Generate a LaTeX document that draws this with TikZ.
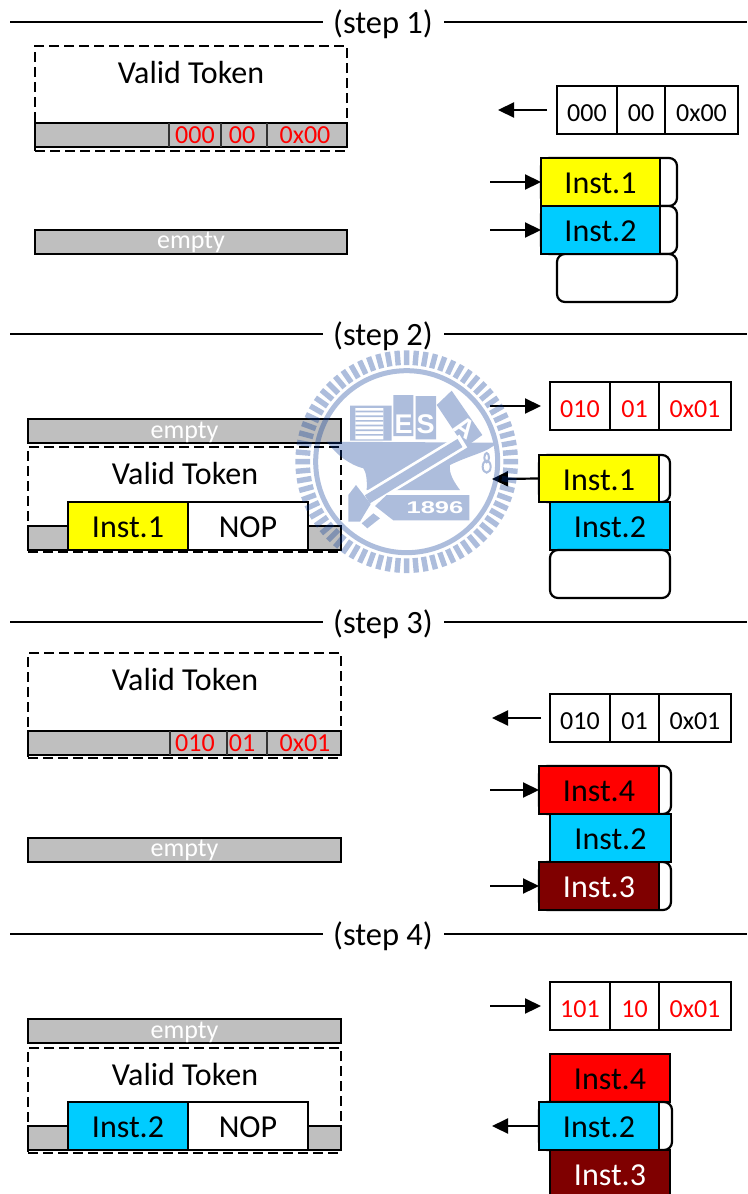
\documentclass[tikz,border=0pt]{standalone}
\usepackage{fontspec}
\setmainfont{Carlito}
\newfontfamily\logofont{Liberation Sans}
\usetikzlibrary{arrows.meta}
\definecolor{barg}{HTML}{BFBFBF}
\definecolor{instb}{HTML}{00CCFF}
\definecolor{insty}{HTML}{FFFF00}
\definecolor{instr}{HTML}{FF0000}
\definecolor{instd}{HTML}{7F0000}
\definecolor{logoc}{HTML}{003494}
\newcommand\cellbox[6][]{%
  \pgfmathsetmacro\cbw{#4-#2}\pgfmathsetmacro\cbh{#5-#3}%
  \pgfmathsetmacro\cbx{(#4+#2)/2}\pgfmathsetmacro\cby{(#5+#3)/2}%
  \node[cellbase,minimum width=\cbw pt,minimum height=\cbh pt,#1] at (\cbx,\cby) {#6};}
\tikzset{
  cellbase/.style={draw=black,line width=2.2pt,inner sep=0pt,outer sep=0pt,font=\fontsize{26}{26}\selectfont,text=black,text height=23pt,text depth=0pt},
  big/.style={font=\fontsize{32}{32}\selectfont,text height=23.5pt,text depth=0pt},
  tab/.style={fill=white,rounded corners=8pt},
  bar/.style={fill=barg,text=white,text height=12pt,text depth=0pt},
  zone/.style={draw=black,line width=2.2pt,dash pattern=on 10pt off 5pt,fill=none,inner sep=0pt,outer sep=0pt},
  rule/.style={draw=black,line width=2.2pt},
  flow/.style={draw=black,line width=2.2pt,-{Triangle[length=16pt,width=15pt]}},
  tick/.style={draw=black!80,line width=1.6pt},
  redt/.style={text=red,font=\fontsize{26}{26}\selectfont,inner sep=0pt,anchor=base},
  steplabel/.style={font=\fontsize{32.5}{32.5}\selectfont,inner sep=0pt,anchor=base},
  tokenlabel/.style={font=\fontsize{32}{32}\selectfont,inner sep=0pt,anchor=base},
  logop/.style={fill=logoc,draw=none},
  logotext/.style={text=white,inner sep=0pt,font=\logofont\bfseries\fontsize{27}{27}\selectfont},
}
\begin{document}
\begin{tikzpicture}[x=1pt,y=-1pt]
\useasboundingbox (0,0) rectangle (747,1194);
\fill[white] (0,0) rectangle (747,1194);

% section rules
\foreach \n/\yy in {1/22,2/334,3/622,4/934}{
  \node[steplabel] (s\n) at (383,\yy+11) {(step \n)};
  \coordinate (sl\n) at (10,\yy);
  \coordinate (sr\n) at (747,\yy);
  \coordinate (slb\n) at (323,\yy);
  \coordinate (srb\n) at (444,\yy);
  \draw[rule] (sl\n) -- (slb\n);
  \draw[rule] (srb\n) -- (sr\n);
}

% ---------- step 1 ----------
\cellbox[bar,name=g1]{35}{123}{347}{147}{}
\cellbox[bar,name=em1]{35}{230}{347}{254}{empty}
\node[zone,minimum width=312pt,minimum height=105pt] (z1) at (191,98.5) {};
\node[tokenlabel] (vt1) at (191,83) {Valid Token};
\draw[tick] (169,123)--(169,147) (221,123)--(221,147) (267,123)--(267,147);
\node[redt] (a1) at (195,143.5) {000};
\node[redt] (b1) at (242,143.5) {00};
\node[redt] (c1) at (305,143.5) {0x00};
\cellbox[name=t1a]{557}{86}{617}{134}{000}
\cellbox[name=t1b]{617}{86}{665}{134}{00}
\cellbox[name=t1c]{665}{86}{738}{134}{0x00}
\coordinate (e1) at (498,110);
\draw[flow,shorten <=10pt] (t1a.west) -- (e1);
\cellbox[tab,name=r11]{541}{158}{677}{206}{}
\cellbox[tab,name=r12]{541}{206}{677}{254}{}
\cellbox[tab,name=r13]{557}{254}{677}{302}{}
\cellbox[big,fill=insty,name=i11]{541}{158}{660}{206}{Inst.1}
\cellbox[big,fill=instb,name=i12]{541}{206}{660}{254}{Inst.2}
\coordinate (p11) at (490,182);
\coordinate (p12) at (490,230);
\draw[flow] (p11) -- (i11.west);
\draw[flow] (p12) -- (i12.west);

% ---------- step 2 ----------
\cellbox[bar,name=em2,text height=15pt]{28}{419}{341}{443}{empty}
\cellbox[bar,name=g2]{28}{526}{341}{550}{}
\node[zone,minimum width=313pt,minimum height=105pt] (z2) at (184.5,499.5) {};
\node[tokenlabel] (vt2) at (185,484) {Valid Token};
\cellbox[big,fill=insty,name=w21]{68}{502}{188}{550}{Inst.1}
\cellbox[big,fill=white,name=w22]{188}{502}{308}{550}{NOP}
\cellbox[text=red,name=t2a]{550}{382}{610}{430}{010}
\cellbox[text=red,name=t2b]{610}{382}{659}{430}{01}
\cellbox[text=red,name=t2c]{659}{382}{731}{430}{0x01}
\coordinate (p21) at (490,406);
\draw[flow,shorten >=9pt] (p21) -- (t2a.west);
\cellbox[tab,name=r21]{539}{455}{670}{502}{}
\cellbox[big,fill=insty,name=i21]{539}{455}{659}{502}{Inst.1}
\cellbox[big,fill=instb,name=i22]{550}{502}{670}{550}{Inst.2}
\cellbox[tab,name=r23]{550}{550}{670}{598}{}
\coordinate (p22) at (492,479);
\draw[flow] (i21.west) -- (p22);

% ---------- step 3 ----------
\cellbox[bar,name=g3]{28}{731}{341}{755}{}
\cellbox[bar,name=em3]{28}{838}{341}{862}{empty}
\node[zone,minimum width=313pt,minimum height=105pt] (z3) at (184.5,705.5) {};
\node[tokenlabel] (vt3) at (185,690) {Valid Token};
\draw[tick] (170,731)--(170,755) (227,731)--(227,755) (267,731)--(267,755);
\node[redt] (a3) at (195,751.5) {010};
\node[redt] (b3) at (242,751.5) {01};
\node[redt] (c3) at (305,751.5) {0x01};
\cellbox[name=t3a]{550}{694}{610}{742}{010}
\cellbox[name=t3b]{610}{694}{659}{742}{01}
\cellbox[name=t3c]{659}{694}{731}{742}{0x01}
\coordinate (p30) at (492,718);
\draw[flow,shorten <=9pt] (t3a.west) -- (p30);
\cellbox[tab,name=r31]{539}{766}{671}{814}{}
\cellbox[big,fill=instr,name=i34]{539}{766}{659}{814}{Inst.4}
\cellbox[tab,name=r33]{539}{862}{671}{910}{}
\cellbox[big,fill=instb,name=i32]{550}{814}{671}{862}{Inst.2}
\cellbox[big,fill=instd,text=white,name=i33]{539}{862}{659}{910}{Inst.3}
\coordinate (p34) at (490,790);
\coordinate (p33) at (490,886);
\draw[flow] (p34) -- (i34.west);
\draw[flow] (p33) -- (i33.west);

% ---------- step 4 ----------
\cellbox[bar,name=em4,text height=15pt]{28}{1019}{341}{1043}{empty}
\cellbox[bar,name=g4]{28}{1126}{341}{1150}{}
\node[zone,minimum width=313pt,minimum height=105pt] (z4) at (184.5,1100.5) {};
\node[tokenlabel] (vt4) at (185,1085) {Valid Token};
\cellbox[big,fill=instb,name=w41]{68}{1102}{188}{1150}{Inst.2}
\cellbox[big,fill=white,name=w42]{188}{1102}{308}{1150}{NOP}
\cellbox[text=red,name=t4a]{550}{982}{610}{1030}{101}
\cellbox[text=red,name=t4b]{610}{982}{659}{1030}{10}
\cellbox[text=red,name=t4c]{659}{982}{731}{1030}{0x01}
\coordinate (p41) at (490,1006);
\draw[flow,shorten >=9pt] (p41) -- (t4a.west);
\cellbox[big,fill=instr,name=i44]{550}{1054}{670}{1102}{Inst.4}
\cellbox[tab,name=r42]{539}{1102}{672}{1150}{}
\cellbox[big,fill=instb,name=i42]{539}{1102}{659}{1150}{Inst.2}
\cellbox[big,fill=instd,text=white,name=i43]{550}{1150}{670}{1198}{Inst.3}
\coordinate (p42) at (492,1126);
\draw[flow] (i42.west) -- (p42);

% ---------- watermark ----------
\begin{scope}[shift={(280,340)},x=0.33333pt,y=-0.33333pt,transparency group,opacity=0.32]
  \foreach \a in {0,5,...,355}{
    \draw[draw=logoc,line width=5.4pt] ({380+290*cos(\a)},{365+290*sin(\a)}) -- ({380+334*cos(\a)},{365+334*sin(\a)});
  }
  \draw[draw=logoc,line width=5pt] (380,365) circle[radius=273];
  % books
  \fill[logop] (210,197) rectangle (335,302);
  \fill[white] (226,204) rectangle (310,298);
  \foreach \yy in {212,226,240,254,268,282}{\fill[logop] (226,\yy) rectangle (310,\yy+5);}
  \fill[logop] (340,165) rectangle (400,288);
  \fill[logop] (407,168) rectangle (468,298);
  \fill[logop] (470,195) -- (515,152) -- (607,285) -- (555,322) -- cycle;
  \node[logotext] (lgE) at (371,252) {E};
  \node[logotext] (lgS) at (437,252) {S};
  \node[logotext,rotate=-35] (lgA) at (553,262) {A};
  % anvil
  \fill[logop] (140,305) -- (650,308) .. controls (630,335) and (570,345) .. (510,375)
     .. controls (505,400) and (525,430) .. (540,450) -- (260,450)
     .. controls (262,420) and (258,395) .. (250,385) .. controls (210,375) and (170,345) .. (140,305) -- cycle;
  % hammer handle: white band with a blue core, cut through the anvil
  \draw[white,line width=15pt] (255,482) -- (550,303);
  \draw[logoc,line width=9.5pt] (262,478) -- (540,309);
  % hammer head
  \fill[logop] (205,465) -- (228,435) -- (272,492) -- (240,545) -- (205,545) -- cycle;
  \fill[logop] (245,550) -- (280,520) -- (300,535) -- (262,565) -- cycle;
  % base
  \fill[logop] (285,498) -- (320,465) -- (568,465) -- (568,541) -- (340,541) -- cycle;
  \node[text=white,inner sep=0pt] (lg96) at (465,503) {\scalebox{1.5}[1]{\logofont\bfseries\fontsize{17}{17}\selectfont 1896}};
  % chain
  \draw[logoc,line width=2pt] (620,353) ellipse[x radius=7,y radius=14];
  \draw[logoc,line width=2pt] (620,380) ellipse[x radius=12,y radius=18];
\end{scope}
\end{tikzpicture}
\end{document}
